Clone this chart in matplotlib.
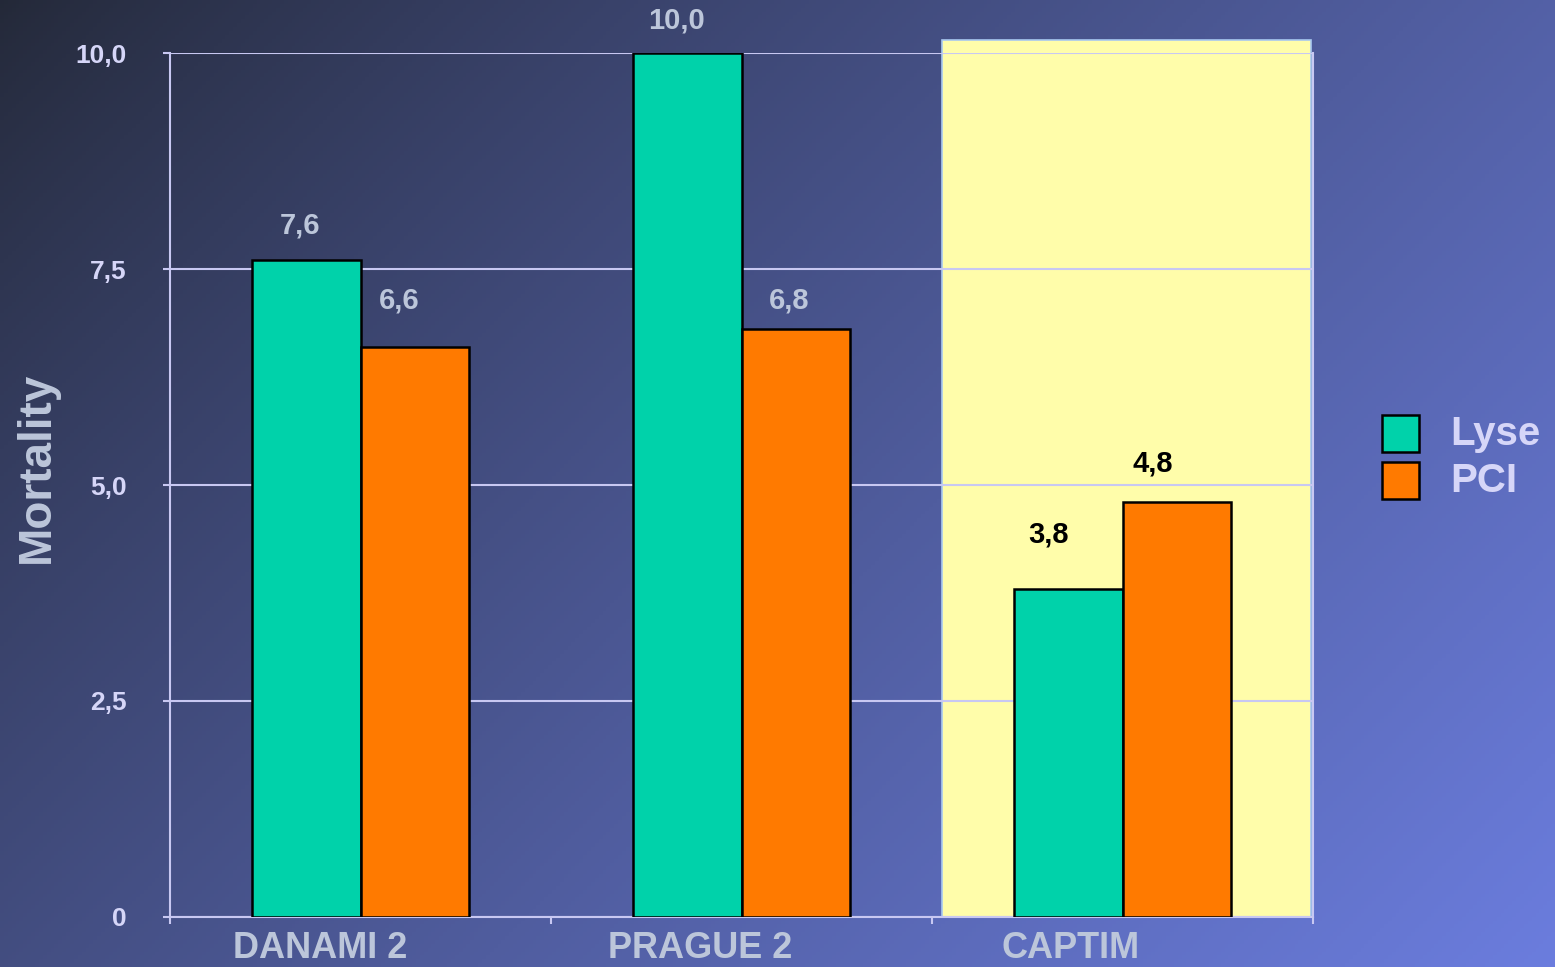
import numpy as np
import matplotlib.pyplot as plt
from matplotlib.patches import Rectangle
from matplotlib.transforms import ScaledTranslation

# data
studies = ['DANAMI 2', 'PRAGUE 2', 'CAPTIM']
lyse = [7.6, 10.0, 3.8]
pci = [6.6, 6.8, 4.8]
lyse_labels = ['7,6', '10,0', '3,8']
pci_labels = ['6,6', '6,8', '4,8']
y_ticks = [0, 2.5, 5.0, 7.5, 10.0]
y_ticklabels = ['0', '2,5', '5,0', '7,5', '10,0']

teal = '#00D2AA'
orange = '#FF7A00'
lav = '#D6D6F8'
grid_col = '#C8C8F2'
label_grey = '#BCC6DA'

plt.rcParams['font.family'] = ['Liberation Sans', 'DejaVu Sans']
plt.rcParams['font.weight'] = 'bold'

fig = plt.figure(figsize=(15.55, 9.67), dpi=100)

# gradient background
bg = fig.add_axes([0, 0, 1, 1], zorder=-10)
W, H = 400, 250
xx, yy = np.meshgrid(np.linspace(0, 1, W), np.linspace(0, 1, H))
t = np.clip(0.62 * xx + 0.38 * yy, 0, 1) ** 0.85
c0 = np.array([0.14, 0.16, 0.22])
c1 = np.array([0.42, 0.49, 0.87])
img = c0[None, None, :] * (1 - t[..., None]) + c1[None, None, :] * t[..., None]
bg.imshow(img, aspect='auto', extent=[0, 1, 0, 1], origin='upper')
bg.axis('off')

ax = fig.add_axes([170 / 1555, 1 - 917 / 967, (1313 - 170) / 1555, (917 - 53) / 967])
ax.set_facecolor('none')

x = np.arange(len(studies)) + 0.5
w = 0.285

# highlighted CAPTIM box
ax.add_patch(Rectangle((2.026, 0), 0.969, 10.15, facecolor='#FFFDAA', edgecolor='#A8C8F0',
                       linewidth=1.2, zorder=0.2, clip_on=False))

b1 = ax.bar(x - w / 2, lyse, w, color=teal, edgecolor='black', linewidth=1.8, zorder=3)
b2 = ax.bar(x + w / 2, pci, w, color=orange, edgecolor='black', linewidth=1.8, zorder=3)

ax.set_xlim(0, 3)
ax.set_ylim(0, 10)

ax.set_yticks(y_ticks)
ax.set_yticklabels(y_ticklabels)
ax.yaxis.grid(True, color=grid_col, linewidth=1.5)
ax.set_axisbelow(True)
ax.tick_params(axis='y', colors=grid_col, labelcolor=lav, labelsize=19, length=5, width=1.5, pad=26)

ax.set_xticks(x)
ax.set_xticklabels(studies)
ax.set_xticks([0, 1, 2, 3], minor=True)
ax.tick_params(axis='x', which='major', length=0, labelsize=26, labelcolor=label_grey, pad=10)
ax.tick_params(axis='x', which='minor', length=5, width=1.5, colors=grid_col)
x_shift = [-40, -41, -52]
for lab, dx in zip(ax.get_xticklabels(), x_shift):
    lab.set_transform(lab.get_transform() + ScaledTranslation(dx / 100, 0, fig.dpi_scale_trans))

for s in ['left', 'right', 'bottom', 'top']:
    ax.spines[s].set_color(grid_col)
    ax.spines[s].set_linewidth(1.5)
ax.spines['top'].set_visible(False)
ax.spines['right'].set_bounds(0, 10)

ax.set_ylabel('Mortality', fontsize=33, color=label_grey, fontweight='bold')
ax.yaxis.set_label_coords(-0.097, 0.52)

# value labels (pixel offsets from bar top)
lyse_off = [(-6, 35), (-11, 33), (-20, 54)]
pci_off = [(-16, 46), (-7, 29), (-24, 39)]
lyse_col = [label_grey, label_grey, 'black']
pci_col = [label_grey, label_grey, 'black']
for i in range(len(studies)):
    ax.annotate(lyse_labels[i], (x[i] - w / 2, lyse[i]), xytext=(lyse_off[i][0] * 0.72, lyse_off[i][1] * 0.72),
                textcoords='offset points', ha='center', va='center', fontsize=21,
                color=lyse_col[i], annotation_clip=False)
    ax.annotate(pci_labels[i], (x[i] + w / 2, pci[i]), xytext=(pci_off[i][0] * 0.72, pci_off[i][1] * 0.72),
                textcoords='offset points', ha='center', va='center', fontsize=21,
                color=pci_col[i], annotation_clip=False)

# legend
for j, (name, col) in enumerate([('Lyse', teal), ('PCI', orange)]):
    y0 = 1 - (452 + j * 47) / 967
    fig.patches.append(Rectangle((1382 / 1555, y0), 37 / 1555, 37 / 967, facecolor=col,
                                 edgecolor='black', linewidth=1.8, transform=fig.transFigure, figure=fig))
    fig.text(1450 / 1555, y0 + 18 / 967, name, fontsize=29, color=lav, va='center', ha='left')

fig.savefig('out.png', dpi=100)
